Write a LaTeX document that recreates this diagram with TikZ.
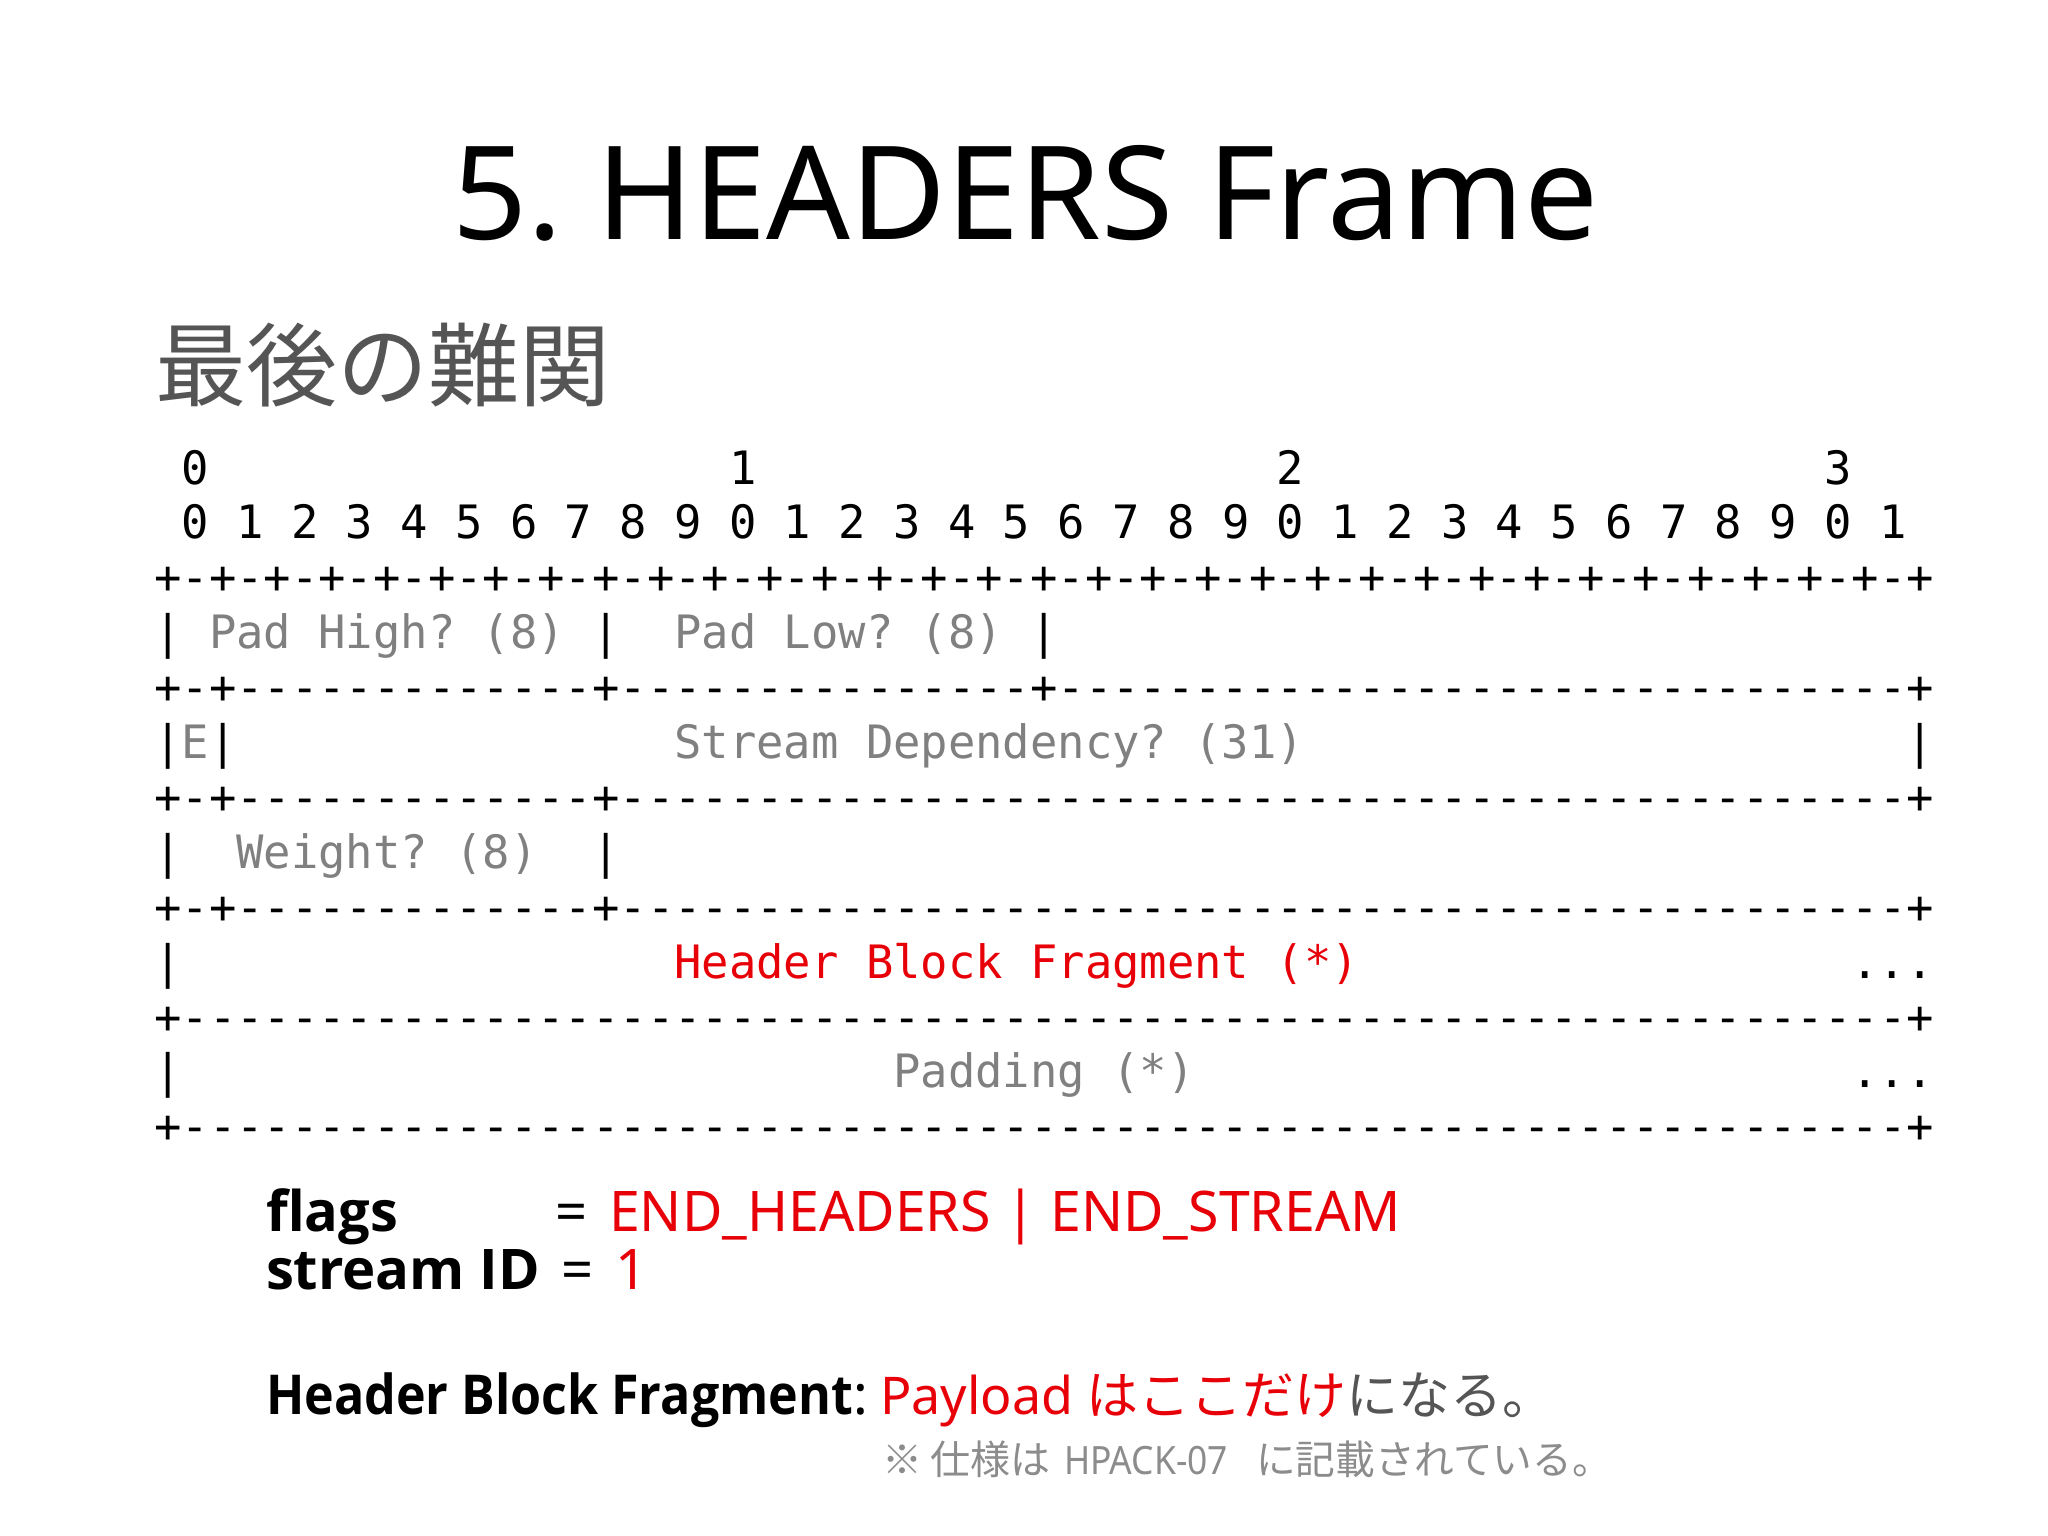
\documentclass[tikz,border=0pt]{standalone}
\usepackage{fontspec}
\usepackage{graphicx}
\setmainfont{Noto Sans}
\newfontfamily\bsans{Open Sans}
\newfontfamily\mono[FakeStretch=0.9886]{DejaVu Sans Mono}
\newfontfamily\cjk{Noto Sans CJK JP}
\definecolor{hred}{RGB}{232,0,8}
\definecolor{lblgray}{RGB}{128,128,128}
\definecolor{subgray}{RGB}{85,85,85}
\definecolor{notegray}{RGB}{140,140,140}
\frenchspacing
\newsavebox\fitbox
\newcommand\fitw[2]{\sbox\fitbox{#2}\pgfmathsetmacro\fitsx{#1/\wd\fitbox}\scalebox{\fitsx}[1]{\usebox\fitbox}}
\tikzset{
  mono/.style={anchor=base west, inner sep=0pt, outer sep=0pt, font=\mono\fontsize{46}{46}\selectfont, text=black},
  monolbl/.style={mono, text=lblgray},
  monored/.style={mono, text=hred},
  txt/.style={anchor=base west, inner sep=0pt, outer sep=0pt},
  boldtxt/.style={txt, font=\bsans\bfseries\fontsize{56}{56}\selectfont},
}
\begin{document}
\begin{tikzpicture}[x=1pt,y=-1pt]
\useasboundingbox (0,0) rectangle (2048,1536);
\fill[white] (0,0) rectangle (2048,1536);

% Title and subtitle
\node[txt, font=\fontsize{130}{130}\selectfont] (title) at (452,239) {\fitw{1146}{5. HEADERS Frame}};
\node[txt, font=\cjk\fontsize{91}{91}\selectfont, text=subgray] (subtitle) at (155,399) {最後の難関};

\begin{scope}[xshift=2pt]
% Bit ruler
\node[mono] (r0) at (179.7,484) {0};
\node[mono] (r0b) at (727.2,484) {1};
\node[mono] (r0c) at (1274.7,484) {2};
\node[mono] (r0d) at (1822.2,484) {3};
\node[mono] (r1) at (179.7,538.9) {0 1 2 3 4 5 6 7 8 9 0 1 2 3 4 5 6 7 8 9 0 1 2 3 4 5 6 7 8 9 0 1};
\node[mono] (r2) at (152.3,593.8) {+-+-+-+-+-+-+-+-+-+-+-+-+-+-+-+-+-+-+-+-+-+-+-+-+-+-+-+-+-+-+-+-+};

% Pad High / Pad Low
\node[mono] (r3a) at (152.3,648.7) {|};
\node[monolbl] (padhigh) at (207.05,648.7) {Pad High? (8)};
\node[mono] (r3b) at (590.3,648.7) {|};
\node[monolbl] (padlow) at (672.4,648.7) {Pad Low? (8)};
\node[mono] (r3c) at (1028.3,648.7) {|};
\node[mono] (r4) at (152.3,703.6) {+-+-------------+---------------+-------------------------------+};

% E / Stream Dependency
\node[mono] (r5a) at (152.3,758.5) {|};
\node[monolbl] (ebit) at (179.7,758.5) {E};
\node[mono] (r5b) at (207.05,758.5) {|};
\node[monolbl] (streamdep) at (672.4,758.5) {Stream Dependency? (31)};
\node[mono] (r5c) at (1904.3,758.5) {|};
\node[mono] (r6) at (152.3,813.4) {+-+-------------+-----------------------------------------------+};

% Weight
\node[mono] (r7a) at (152.3,868.3) {|};
\node[monolbl] (weight) at (234.4,868.3) {Weight? (8)};
\node[mono] (r7b) at (590.3,868.3) {|};
\node[mono] (r8) at (152.3,923.2) {+-+-------------+-----------------------------------------------+};

% Header Block Fragment
\node[mono] (r9a) at (152.3,978.1) {|};
\node[monored] (hbf) at (672.4,978.1) {Header Block Fragment (*)};
\node[mono] (r9b) at (1849.6,978.1) {...};
\node[mono] (r10) at (152.3,1033) {+---------------------------------------------------------------+};

% Padding
\node[mono] (r11a) at (152.3,1087.9) {|};
\node[monolbl] (padding) at (891.4,1087.9) {Padding (*)};
\node[mono] (r11b) at (1849.6,1087.9) {...};
\node[mono] (r12) at (152.3,1142.8) {+---------------------------------------------------------------+};
\end{scope}

% flags / stream ID
\node[boldtxt] (flags) at (266,1231) {\fitw{132}{flags}};
\node[txt, font=\fontsize{56}{56}\selectfont] (eq1) at (555,1231) {=};
\node[txt, font=\fontsize{56}{56}\selectfont, text=hred] (flagval) at (609,1231) {\fitw{792}{END\_HEADERS | END\_STREAM}};
\node[boldtxt] (sid) at (266,1289) {\fitw{274}{stream ID}};
\node[txt, font=\fontsize{56}{56}\selectfont] (eq2) at (561,1289) {=};
\node[txt, font=\fontsize{56}{56}\selectfont, text=hred] (sidval) at (615,1289) {1};

% Header Block Fragment line
\node[boldtxt, font=\bsans\bfseries\fontsize{55}{55}\selectfont] (hbflbl) at (266,1414) {\fitw{587}{Header Block Fragment}};
\node[txt, font=\fontsize{55}{55}\selectfont, anchor=base west] (colon) at (hbflbl.base east) {:};
\node[txt, font=\fontsize{52}{52}\selectfont, text=hred] (payload) at (880,1414) {Payload {\cjk はここだけ}\textcolor{subgray}{\cjk になる。}};

% Note
\node[txt, font=\cjk\fontsize{40}{40}\selectfont, text=notegray] (note1) at (882,1474) {※ 仕様は};
\node[txt, font=\fontsize{39}{39}\selectfont, text=notegray] (note2) at (1064,1474) {\fitw{164}{HPACK-07}};
\node[txt, font=\cjk\fontsize{40}{40}\selectfont, text=notegray] (note3) at (1256,1474) {\fitw{356}{に記載されている。}};
\end{tikzpicture}
\end{document}
